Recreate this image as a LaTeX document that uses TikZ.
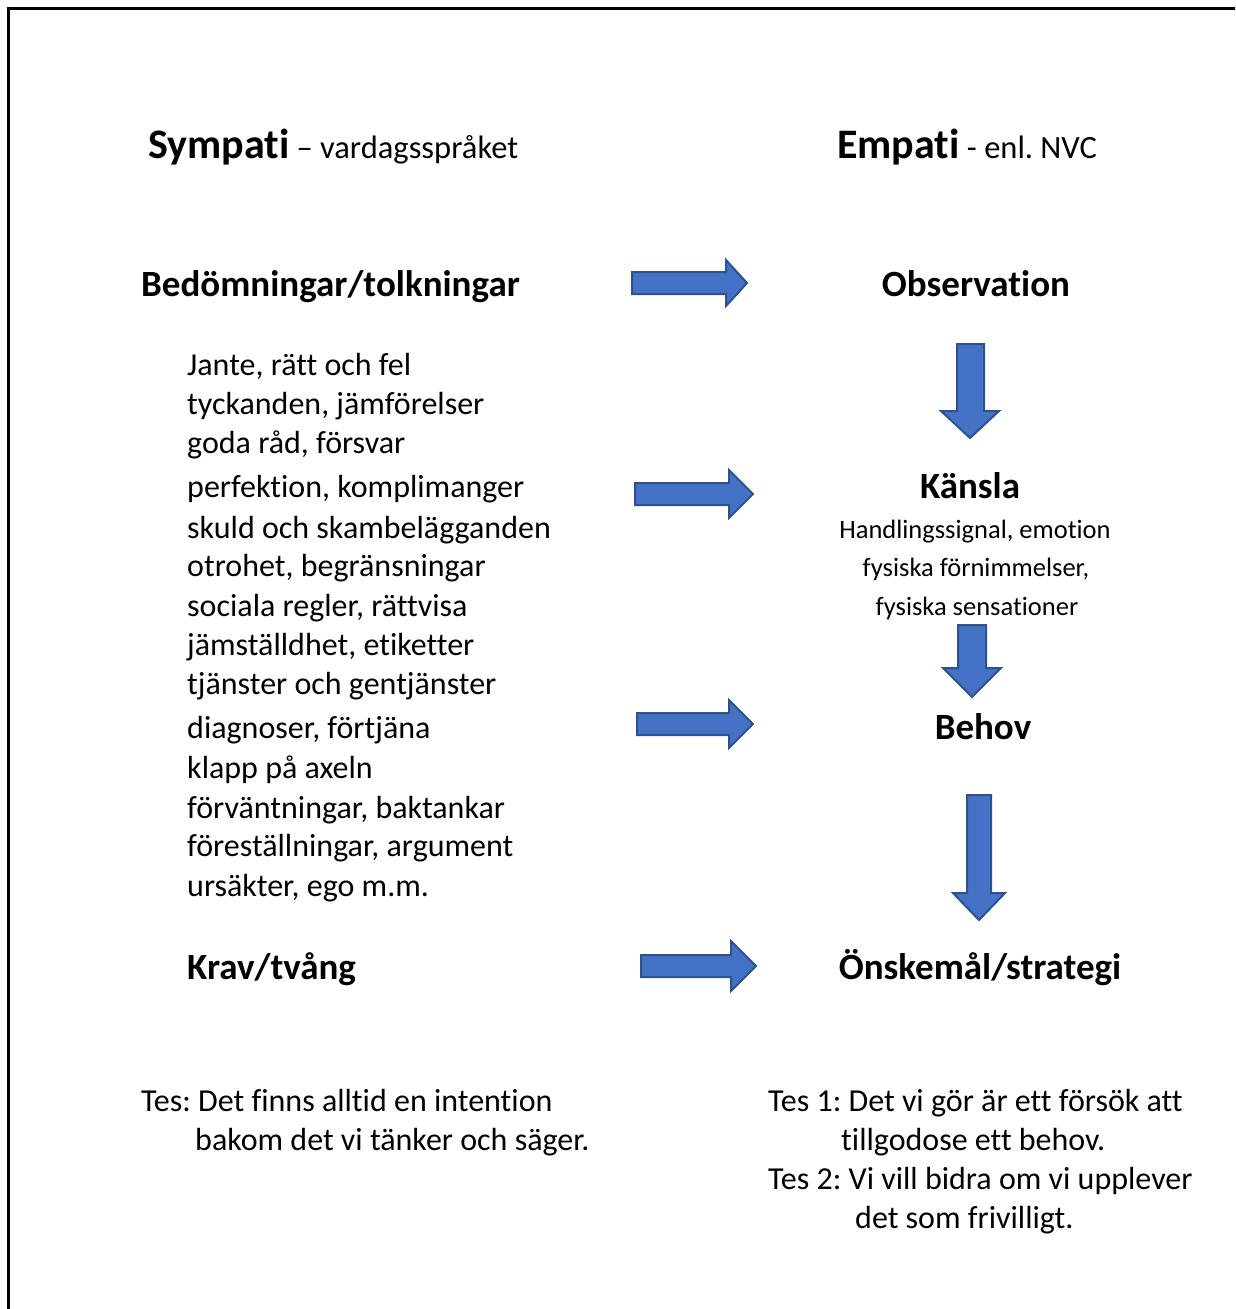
\documentclass[tikz,border=0pt]{standalone}
\usepackage{fontspec}
\setmainfont{Carlito}[Ligatures=NoCommon]
\usetikzlibrary{positioning}

\definecolor{arrowfill}{RGB}{68,114,196}
\definecolor{arrowline}{RGB}{47,82,143}

\tikzset{
  blockarrow/.style={fill=arrowfill,draw=arrowline,line width=2pt,line join=miter},
  title/.style={anchor=base west,inner sep=0pt,font=\fontsize{42}{50}\selectfont\bfseries},
  head/.style={anchor=base,inner sep=0pt,font=\fontsize{37}{44}\selectfont\bfseries},
  body/.style={anchor=base west,inner sep=0pt,font=\fontsize{32}{38}\selectfont},
  small/.style={anchor=base,inner sep=0pt,font=\fontsize{26.5}{32}\selectfont}
}
\frenchspacing

\begin{document}
\begin{tikzpicture}[x=1pt,y=-1pt]
  \useasboundingbox (0,0) rectangle (1235,1309);
  \clip (0,0) rectangle (1235,1309);

  % frame
  \draw[line width=3pt] (8,1330) -- (8,8) -- (1250,8);

  % titles
  \node[title] (sym) at (148,158) {Sympati\fontsize{32.5}{38}\selectfont\mdseries{} -- vardagsspråket};
  \node[title] (emp) at (837,158) {Empati\fontsize{32.5}{38}\selectfont\mdseries{} - enl. NVC};

  % left column
  \node[head,anchor=base west] (bed) at (141,296) {Bedömningar/tolkningar};
  \node[body] (l1) at (187,375) {Jante, rätt och fel};
  \node[body] (l2) at (187,414) {tyckanden, jämförelser};
  \node[body] (l3) at (187,453) {goda råd, försvar};
  \node[body] (l4) at (187,497) {perfektion, komplimanger};
  \node[body] (l5) at (187,538) {skuld och skambelägganden};
  \node[body] (l6) at (187,576) {otrohet, begränsningar};
  \node[body] (l7) at (187,616) {sociala regler, rättvisa};
  \node[body] (l8) at (187,655) {jämställdhet, etiketter};
  \node[body] (l9) at (187,694) {tjänster och gentjänster};
  \node[body] (l10) at (187,738) {diagnoser, förtjäna};
  \node[body] (l11) at (187,778) {klapp på axeln};
  \node[body] (l12) at (187,818) {förväntningar, baktankar};
  \node[body] (l13) at (187,856) {föreställningar, argument};
  \node[body] (l14) at (187,896) {ursäkter, ego m.m.};
  \node[head,anchor=base west] (krav) at (187,979) {Krav/tvång};

  % right column
  \node[head] (obs) at (976,296) {Observation};
  \node[head] (kans) at (970,498) {Känsla};
  \node[small] (k1) at (975,538) {Handlingssignal, emotion};
  \node[small] (k2) at (976,576) {fysiska förnimmelser,};
  \node[small] (k3) at (977,615) {fysiska sensationer};
  \node[head] (beh) at (983,739) {Behov};
  \node[head] (onsk) at (980,979) {Önskemål/strategi};

  % theses
  \node[body] (t1) at (141,1111) {Tes: Det finns alltid en intention};
  \node[body] (t1b) at (195,1150) {bakom det vi tänker och säger.};
  \node[body] (t2) at (768,1111) {Tes 1: Det vi gör är ett försök att};
  \node[body] (t2b) at (841,1150) {tillgodose ett behov.};
  \node[body] (t3) at (768,1189) {Tes 2: Vi vill bidra om vi upplever};
  \node[body] (t3b) at (855,1228) {det som frivilligt.};

  % arrows to the right
  \draw[blockarrow] (632,272) -- (726,272) -- (726,260) -- (747,283) -- (726,306) -- (726,294) -- (632,294) -- cycle;
  \draw[blockarrow] (635,483) -- (729,483) -- (729,470) -- (753,494) -- (729,518) -- (729,505) -- (635,505) -- cycle;
  \draw[blockarrow] (637,713) -- (729,713) -- (729,700) -- (753,724) -- (729,748) -- (729,735) -- (637,735) -- cycle;
  \draw[blockarrow] (641,955) -- (731,955) -- (731,941) -- (756,966) -- (731,991) -- (731,977) -- (641,977) -- cycle;

  % arrows down
  \draw[blockarrow] (957,344) -- (984,344) -- (984,411) -- (999,411) -- (970,438) -- (941,411) -- (957,411) -- cycle;
  \draw[blockarrow] (958,625) -- (986,625) -- (986,668) -- (1001,668) -- (972,697) -- (943,668) -- (958,668) -- cycle;
  \draw[blockarrow] (967,795) -- (991,795) -- (991,893) -- (1005,893) -- (979,920) -- (953,893) -- (967,893) -- cycle;
\end{tikzpicture}
\end{document}
